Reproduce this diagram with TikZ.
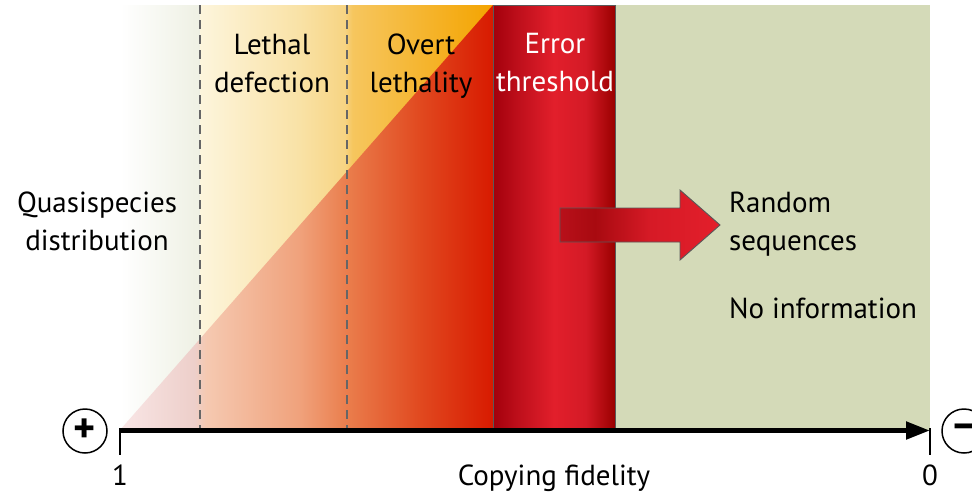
\documentclass[tikz,border=0pt]{standalone}
\usepackage{fontspec}
\setmainfont{PT Sans}
\usetikzlibrary{arrows.meta}

\definecolor{fadegreen}{HTML}{EEF0E3}
\definecolor{noinfogreen}{HTML}{D4DAB8}
\definecolor{upA}{HTML}{FDF5DC}
\definecolor{upB}{HTML}{F9E2A6}
\definecolor{upC}{HTML}{F7D483}
\definecolor{upD}{HTML}{F6C65E}
\definecolor{upE}{HTML}{F4A400}
\definecolor{lowA}{HTML}{F9E6E6}
\definecolor{lowB}{HTML}{EDCFCA}
\definecolor{lowC}{HTML}{F5C9B1}
\definecolor{lowD}{HTML}{F0A27C}
\definecolor{lowE}{HTML}{EA7D4C}
\definecolor{lowF}{HTML}{E14A20}
\definecolor{lowG}{HTML}{D81A00}
\definecolor{bandA}{HTML}{A3000C}
\definecolor{bandB}{HTML}{C0101C}
\definecolor{bandC}{HTML}{E21F2B}
\definecolor{bandD}{HTML}{D41A26}
\definecolor{bandE}{HTML}{9A0000}
\definecolor{arrA}{HTML}{B8101A}
\definecolor{arrB}{HTML}{A80A10}
\definecolor{arrC}{HTML}{D61A26}
\definecolor{arrD}{HTML}{E31F2B}

\pgfdeclarehorizontalshading{upwedge}{100bp}{color(0bp)=(upA); color(25bp)=(upA); color(42bp)=(upB); color(49.7bp)=(upC); color(51bp)=(upD); color(75bp)=(upE); color(100bp)=(upE)}
\pgfdeclarehorizontalshading{lowwedge}{100bp}{color(0bp)=(lowA); color(25bp)=(lowA); color(35bp)=(lowB); color(36.5bp)=(lowC); color(49bp)=(lowD); color(55.5bp)=(lowE); color(65bp)=(lowF); color(75bp)=(lowG); color(100bp)=(lowG)}
\pgfdeclarehorizontalshading{redband}{100bp}{color(0bp)=(bandA); color(25bp)=(bandA); color(36bp)=(bandB); color(50bp)=(bandC); color(63bp)=(bandD); color(75bp)=(bandE); color(100bp)=(bandE)}
\pgfdeclarehorizontalshading{redarrow}{100bp}{color(0bp)=(arrA); color(25bp)=(arrA); color(36bp)=(arrB); color(53bp)=(arrC); color(75bp)=(arrD); color(100bp)=(arrD)}

\begin{document}
\begin{tikzpicture}[x=1pt, y=-1pt,
    zonetext/.style={font=\fontsize{29}{38}\selectfont, align=center, inner sep=0pt},
    limit/.style={draw=black!60, dash pattern=on 9pt off 6pt, line width=1.6pt},
    rim/.style={draw=black!65, line width=0.9pt},
    sign/.style={circle, draw, line width=1.5pt, minimum size=44pt, inner sep=0pt, font=\fontsize{42}{42}\selectfont}]
    \useasboundingbox (0,0) rectangle (972,496);
    \fill[white] (0,0) rectangle (972,496);

    % zones
    \shade[left color=white, right color=fadegreen] (120,5) rectangle (200,430);
    \shade[shading=upwedge] (200,5) rectangle (493,430);
    \shade[shading=lowwedge] (120,430) -- (493,5) -- (493,430) -- cycle;
    \fill[noinfogreen] (615,5) rectangle (930,430);
    \shade[shading=redband, rim] (493,5) rectangle (615,430);
    \draw[limit] (200,5) -- (200,430);
    \draw[limit] (347,5) -- (347,430);

    % jump out of the threshold
    \shade[shading=redarrow, rim] (560,208) -- (680,208) -- (680,190) -- (720,225)
        -- (680,260) -- (680,242) -- (560,242) -- cycle;

    % texts
    \node[zonetext, anchor=north] (lethal) at (272,34) {Lethal\\defection};
    \node[zonetext, anchor=north] (overt) at (421,34) {Overt\\lethality};
    \node[zonetext, anchor=north, text=white] (errthr) at (555,33) {Error\\threshold};
    \node[zonetext, anchor=north] (quasi) at (97,192) {Quasispecies\\distribution};
    \node[zonetext, anchor=north west, align=left] (random) at (729,192) {Random\\sequences};
    \node[zonetext, anchor=base west] (noinfo) at (729,318) {No information};

    % fidelity axis
    \coordinate (origin) at (120,430.5);
    \coordinate (end) at (930,430.5);
    \draw[line width=5pt, -{Triangle[length=24pt, width=17pt]}] (origin) -- (end);
    \draw[line width=1.2pt] (120,428) -- (120,455);
    \draw[line width=1.2pt] (930,428) -- (930,455);
    \node[zonetext, anchor=base] (one) at (120,485) {1};
    \node[zonetext, anchor=base] (zero) at (930,485) {0};
    \node[zonetext, anchor=base] (fidelity) at (554,485) {Copying fidelity};
    \node[sign] (plus) at (85,431) {\textbf{+}};
    \node[sign] (minus) at (964,431) {\textbf{–}};
\end{tikzpicture}
\end{document}
